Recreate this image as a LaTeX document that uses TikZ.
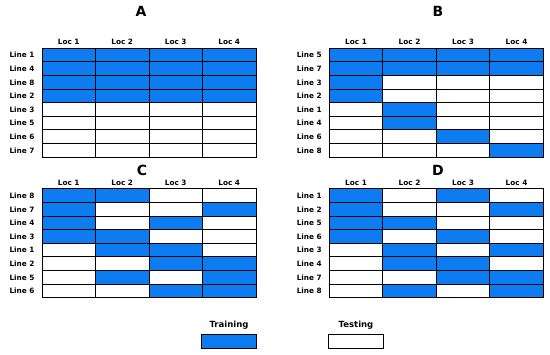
\documentclass[tikz,border=0pt]{standalone}
\usepackage{fontspec}
\setmainfont{DejaVu Sans}
\usetikzlibrary{positioning}
\definecolor{trainblue}{RGB}{12,124,240}

\newcommand{\trialgrid}[5]{
    \node[paneltitle] (#1-title) at #4 {#1};
    \foreach \k in {1,...,4}
        \node[loclabel] (#1-loc\k) at ({#2+(\k-0.5)*53.5},{#3-6.5}) {Loc \k};
    \foreach \lab/\a/\b/\c/\d [count=\r from 0] in {#5} {
        \node[linelabel] (#1-line\r) at ({#2-20},{#3+(\r+0.5)*13.6}) {Line \lab};
        \foreach \v [count=\k from 0] in {\a,\b,\c,\d}
            \draw[cell\v] ({#2+\k*53.5},{#3+\r*13.6}) rectangle ++(53.5,13.6);
    }
}
\tikzset{x=1pt, y=-1pt,
    cell0/.style={draw=black, fill=white, line width=1pt},
    cell1/.style={draw=black, fill=trainblue, line width=1pt},
    paneltitle/.style={font=\fontsize{14}{16}\selectfont\bfseries},
    loclabel/.style={font=\fontsize{7.3}{8}\selectfont\bfseries},
    linelabel/.style={font=\fontsize{7.3}{8}\selectfont\bfseries},
    keylabel/.style={font=\fontsize{8.5}{10}\selectfont\bfseries},
    keybox/.style={draw=black, line width=1pt, minimum width=54.3pt, minimum height=14pt, inner sep=0pt}}

\begin{document}
\begin{tikzpicture}
                \useasboundingbox (0,0) rectangle (550,355);
                \trialgrid{A}{42}{48.3}{(141,11)}{1/1/1/1/1, 4/1/1/1/1, 8/1/1/1/1, 2/1/1/1/1, 3/0/0/0/0, 5/0/0/0/0, 6/0/0/0/0, 7/0/0/0/0}
                \trialgrid{B}{329.3}{48.3}{(438,11)}{5/1/1/1/1, 7/1/1/1/1, 3/1/0/0/0, 2/1/0/0/0, 1/0/1/0/0, 4/0/1/0/0, 6/0/0/1/0, 8/0/0/0/1}
                \trialgrid{C}{42}{189}{(142,170)}{8/1/1/0/0, 7/1/0/0/1, 4/1/0/1/0, 3/1/1/0/0, 1/0/1/1/0, 2/0/0/1/1, 5/0/1/0/1, 6/0/0/1/1}
                \trialgrid{D}{329.3}{189}{(438,170)}{1/1/0/1/0, 2/1/0/0/1, 5/1/1/0/0, 6/1/0/1/0, 3/0/1/0/1, 4/0/1/1/0, 7/0/0/1/1, 8/0/1/0/1}
                \node[keybox, fill=trainblue] (trainbox) at (229,341.3) {};
                \node[keylabel, above=1pt of trainbox] (trainlabel) {Training};
                \node[keybox, fill=white] (testbox) at (356,341.3) {};
                \node[keylabel, above=1pt of testbox] (testlabel) {Testing};
            \end{tikzpicture}
\end{document}
